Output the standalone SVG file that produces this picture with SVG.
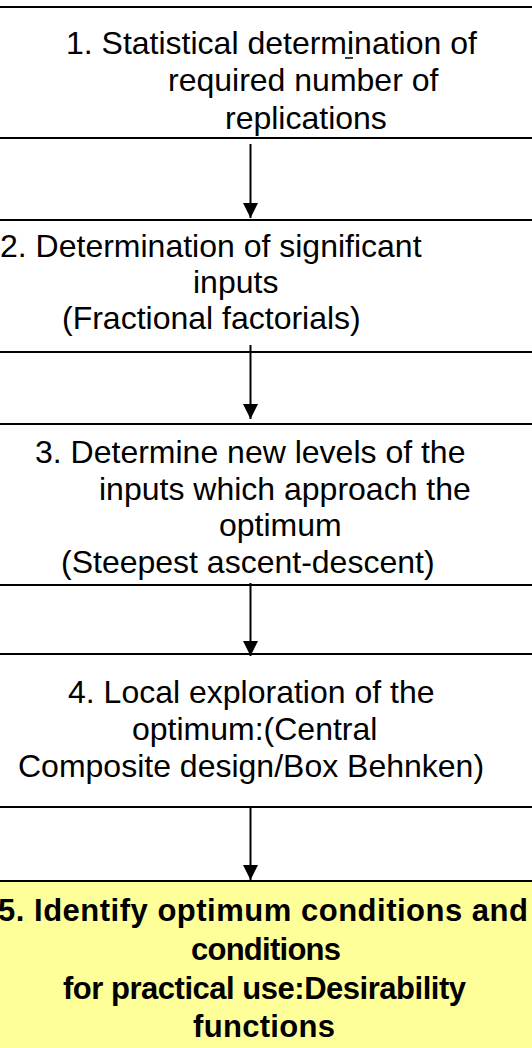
<svg xmlns="http://www.w3.org/2000/svg" width="532" height="1048" viewBox="0 0 532 1048">
  <defs>
    <style>
      .bg { fill: #ffffff; }
      .rule { stroke: #000000; stroke-width: 2; fill: none; }
      .step { font-family: "Liberation Sans", Arial, sans-serif; font-size: 32px; fill: #000000; }
      .final { font-family: "Liberation Sans", Arial, sans-serif; font-size: 31px; font-weight: bold; fill: #000000; }
      .flow { stroke: #000000; stroke-width: 2; fill: none; }
      .hl { fill: #ffff99; }
    </style>
    <marker id="head" markerWidth="15" markerHeight="15" refX="15" refY="7.5" orient="auto" markerUnits="userSpaceOnUse">
      <path d="M0,0 L15,7.5 L0,15 Z" fill="#000000"/>
    </marker>
  </defs>

  <rect class="bg" x="0" y="0" width="532" height="1048"/>

  <g id="step1">
    <line class="rule" x1="0" y1="7" x2="532" y2="7"/>
    <line class="rule" x1="0" y1="138" x2="532" y2="138"/>
    <text class="step" x="66" y="54">1. Statistical determination of</text>
    <line x1="345" y1="58" x2="353" y2="58" stroke="#000000" stroke-width="1.5"/>
    <text class="step" x="168" y="91">required number of</text>
    <text class="step" x="225" y="129">replications</text>
  </g>

  <g id="step2">
    <line class="rule" x1="0" y1="220" x2="532" y2="220"/>
    <line class="rule" x1="0" y1="352" x2="532" y2="352"/>
    <text class="step" x="0" y="257">2. Determination of significant</text>
    <text class="step" x="193" y="293">inputs</text>
    <text class="step" x="62" y="329">(Fractional factorials)</text>
  </g>

  <g id="step3">
    <line class="rule" x1="0" y1="424" x2="532" y2="424"/>
    <line class="rule" x1="0" y1="585" x2="532" y2="585"/>
    <text class="step" x="35" y="463">3. Determine new levels of the</text>
    <text class="step" x="99" y="500">inputs which approach the</text>
    <text class="step" x="219" y="536">optimum</text>
    <text class="step" x="61" y="573">(Steepest ascent-descent)</text>
  </g>

  <g id="step4">
    <line class="rule" x1="0" y1="654" x2="532" y2="654"/>
    <line class="rule" x1="0" y1="807" x2="532" y2="807"/>
    <text class="step" x="68" y="703">4. Local exploration of the</text>
    <text class="step" x="132" y="740">optimum:(Central</text>
    <text class="step" x="18" y="777">Composite design/Box Behnken)</text>
  </g>

  <g id="step5">
    <rect class="hl" x="0" y="881" width="532" height="167"/>
    <line class="rule" x1="0" y1="881" x2="532" y2="881"/>
    <text class="final" x="-2" y="921" textLength="530" lengthAdjust="spacing">5. Identify optimum conditions and</text>
    <text class="final" x="191" y="960" textLength="150" lengthAdjust="spacing">conditions</text>
    <text class="final" x="63" y="999" textLength="403" lengthAdjust="spacing">for practical use:Desirability</text>
    <text class="final" x="193" y="1037" textLength="142" lengthAdjust="spacing">functions</text>
  </g>

  <g id="connectors">
    <line class="flow" x1="250.5" y1="144" x2="250.5" y2="218" marker-end="url(#head)"/>
    <line class="flow" x1="250.5" y1="345" x2="250.5" y2="419" marker-end="url(#head)"/>
    <line class="flow" x1="250.5" y1="583" x2="250.5" y2="656" marker-end="url(#head)"/>
    <line class="flow" x1="250.5" y1="807" x2="250.5" y2="880" marker-end="url(#head)"/>
  </g>
</svg>
